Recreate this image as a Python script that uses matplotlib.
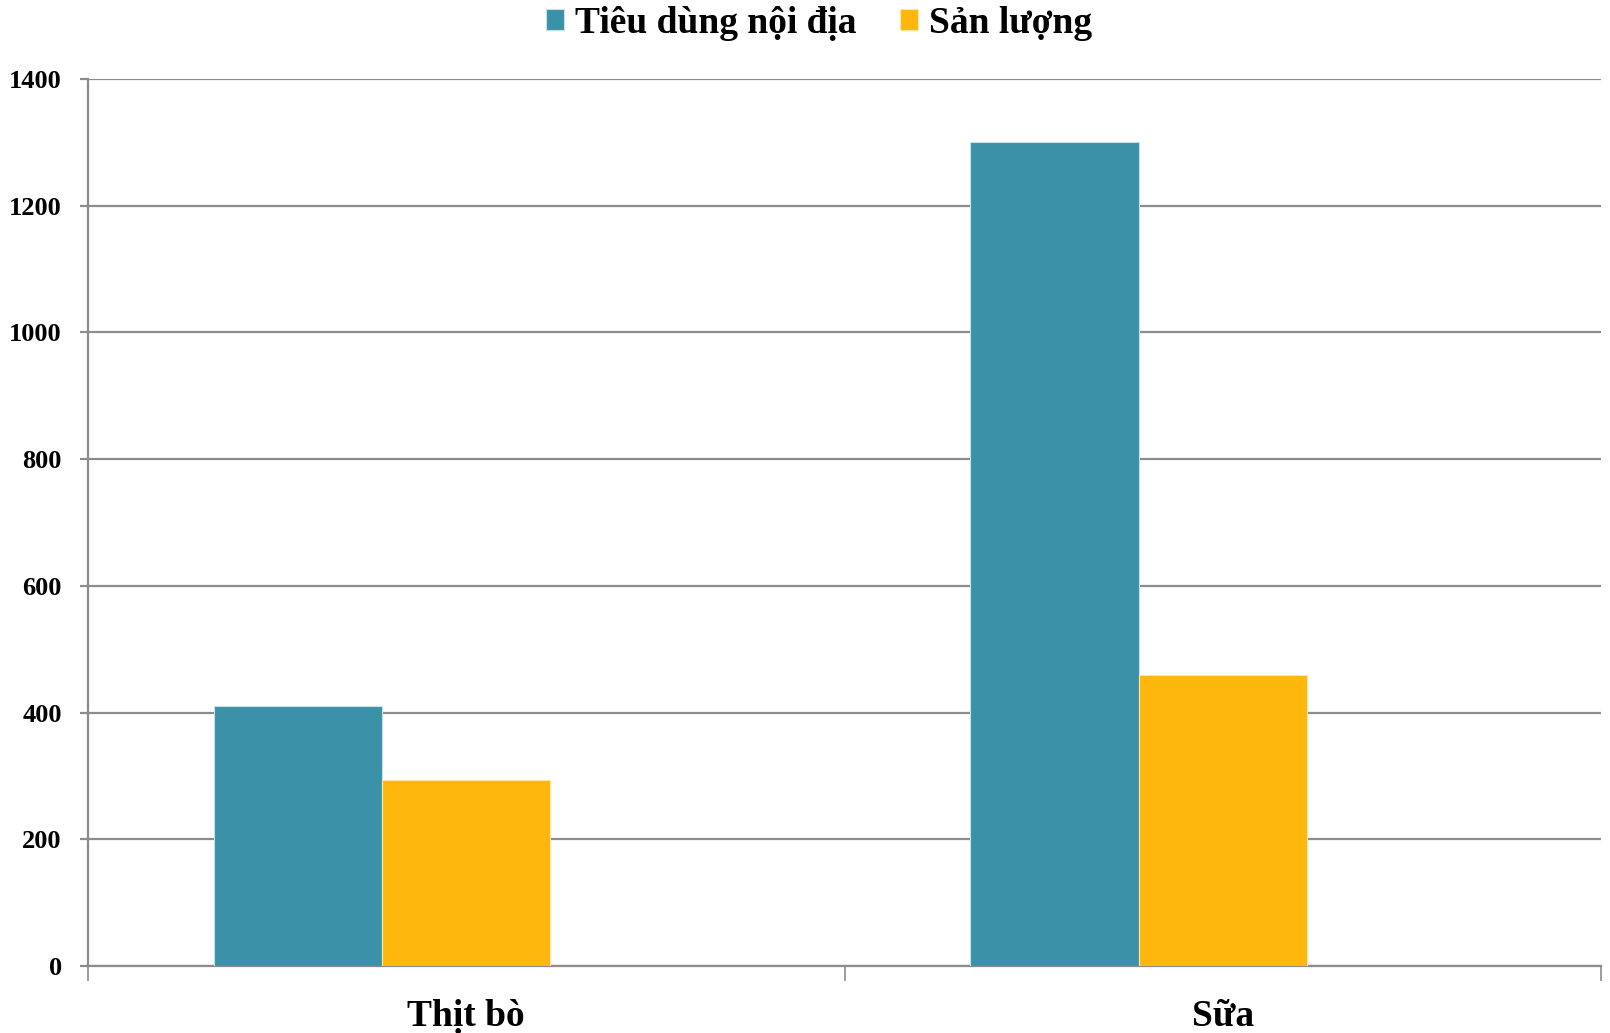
import numpy as np
import matplotlib.pyplot as plt
from matplotlib.ticker import MultipleLocator

plt.rcParams['font.family'] = ['Liberation Serif', 'DejaVu Serif']
plt.rcParams['font.weight'] = 'bold'

categories = ["Thịt bò", "Sữa"]
series_names = ["Tiêu dùng nội địa", "Sản lượng"]
tieu_dung = [410, 1300]
san_luong = [293, 460]

TEAL = "#3A91A8"
YELLOW = "#FEB70D"
GRID = "#8c8c8c"

fig = plt.figure(figsize=(16.1, 10.33), dpi=100)
ax = fig.add_axes([0.0547, 0.0649, 0.9397, 0.8586])

# three slots per group, the third one stays empty
x = np.arange(len(categories))
w = 0.2225
ax.bar(x - w, tieu_dung, w, color=TEAL, edgecolor="#c8e0e8", linewidth=0.8,
       label=series_names[0], zorder=3)
ax.bar(x, san_luong, w, color=YELLOW, edgecolor="#ffe6a8", linewidth=0.8,
       label=series_names[1], zorder=3)

ax.set_xlim(-0.5, 1.5)
ax.set_ylim(0, 1400)
ax.yaxis.set_major_locator(MultipleLocator(200))
ax.grid(axis="y", color=GRID, linewidth=1.6, zorder=0)

for side in ("top", "right"):
    ax.spines[side].set_visible(False)
for side in ("left", "bottom"):
    ax.spines[side].set_color(GRID)
    ax.spines[side].set_linewidth(1.6)

# category ticks sit between the groups, labels at the group centres
ax.set_xticks([-0.5, 0.5, 1.5])
ax.set_xticklabels([])
ax.set_xticks(x, minor=True)
ax.set_xticklabels(categories, minor=True, fontsize=27, fontweight="bold")
ax.tick_params(axis="x", which="major", length=11, width=1.2, color=GRID)
ax.tick_params(axis="x", which="minor", length=0, pad=24)
ax.tick_params(axis="y", length=6, width=1.6, color=GRID, labelsize=19, pad=13)
for lbl in ax.get_yticklabels():
    lbl.set_fontweight("bold")

fig.legend(loc="upper center", bbox_to_anchor=(0.5086, 1.027), ncol=2, frameon=False,
           prop={"weight": "bold", "size": 27}, handlelength=0.48,
           handleheight=0.48, handletextpad=0.3, columnspacing=1.15)

fig.savefig("out.png", dpi=100)
